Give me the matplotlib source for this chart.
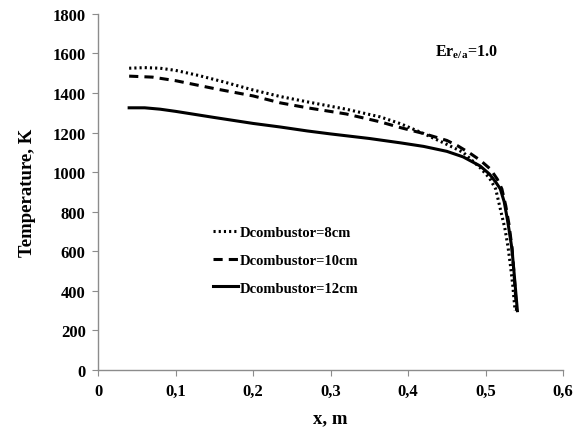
import matplotlib
matplotlib.use('Agg')
import matplotlib.pyplot as plt
from matplotlib.ticker import FuncFormatter

plt.rcParams['font.family'] = 'Liberation Serif'
plt.rcParams['font.weight'] = 'bold'
plt.rcParams['mathtext.fontset'] = 'custom'
plt.rcParams['mathtext.bf'] = 'Liberation Serif:bold'
plt.rcParams['mathtext.rm'] = 'Liberation Serif:bold'

# Dcombustor = 8 cm (dotted)
x_8 = [0.04, 0.06, 0.08, 0.10, 0.13, 0.16, 0.20, 0.235, 0.27, 0.32, 0.364, 0.39, 0.42,
       0.45, 0.471, 0.493, 0.505, 0.513, 0.519, 0.525, 0.529, 0.532, 0.535, 0.538]
t_8 = [1525, 1528, 1525, 1514, 1488, 1458, 1415, 1382, 1355, 1318, 1279, 1245, 1195,
       1140, 1100, 1022, 970, 915, 814, 713, 620, 530, 430, 300]

# Dcombustor = 10 cm (dashed)
x_10 = [0.04, 0.07, 0.10, 0.15, 0.20, 0.235, 0.27, 0.32, 0.364, 0.39, 0.42, 0.45,
        0.464, 0.48, 0.493, 0.506, 0.515, 0.521, 0.526, 0.53, 0.534, 0.537, 0.54]
t_10 = [1485, 1480, 1462, 1422, 1385, 1350, 1325, 1294, 1254, 1225, 1195, 1160,
        1133, 1095, 1060, 1016, 965, 915, 830, 740, 620, 470, 300]

# Dcombustor = 12 cm (solid)
x_12 = [0.04, 0.06, 0.08, 0.10, 0.15, 0.20, 0.235, 0.27, 0.30, 0.35, 0.39, 0.42, 0.45,
        0.471, 0.493, 0.505, 0.513, 0.519, 0.524, 0.528, 0.531, 0.534, 0.537, 0.541]
t_12 = [1325, 1325, 1318, 1307, 1276, 1246, 1228, 1208, 1193, 1170, 1148, 1130, 1105,
        1077, 1031, 990, 950, 915, 850, 763, 690, 612, 480, 300]

labels = ['Dcombustor=8cm', 'Dcombustor=10cm', 'Dcombustor=12cm']

fig = plt.figure(figsize=(5.74, 4.35), dpi=100)
ax = fig.add_axes([0.171, 0.147, 0.81, 0.819])

ax.plot(x_8, t_8, color='black', linewidth=2.2, linestyle=(0, (0.7, 1.0)), label=labels[0])
ax.plot(x_10, t_10, color='black', linewidth=2.2, linestyle=(0, (3, 2)), label=labels[1])
ax.plot(x_12, t_12, color='black', linewidth=2.2, linestyle='-', label=labels[2])

ax.set_xlim(0, 0.6)
ax.set_ylim(0, 1800)
ax.set_xticks([0, 0.1, 0.2, 0.3, 0.4, 0.5, 0.6])
ax.set_yticks(range(0, 1801, 200))
ax.xaxis.set_major_formatter(FuncFormatter(lambda v, p: '0' if v == 0 else ('%.1f' % v).replace('.', ',')))

for s in ['top', 'right']:
    ax.spines[s].set_visible(False)
for s in ['left', 'bottom']:
    ax.spines[s].set_color('#8c8c8c')
    ax.spines[s].set_linewidth(1.0)
ax.tick_params(direction='out', length=4, color='#8c8c8c', labelsize=12, pad=5)
for lab in ax.get_xticklabels() + ax.get_yticklabels():
    lab.set_fontweight('bold')

ax.set_xlabel('x, m', fontsize=13.5, fontweight='bold', labelpad=8)
ax.set_ylabel('Temperature, K', fontsize=13.5, fontweight='bold', labelpad=12)

ax.text(0.791, 0.895, r'Er$_{\mathbf{e/a}}$=1.0', transform=ax.transAxes, fontsize=11.5,
        fontweight='bold', ha='center', va='center')

leg = ax.legend(loc='upper left', bbox_to_anchor=(0.247, 0.405), frameon=False,
                handlelength=1.7, handletextpad=0.15, labelspacing=1.0,
                borderaxespad=0, borderpad=0,
                prop={'weight': 'bold', 'size': 10.5})

fig.savefig('out.png', dpi=100)
